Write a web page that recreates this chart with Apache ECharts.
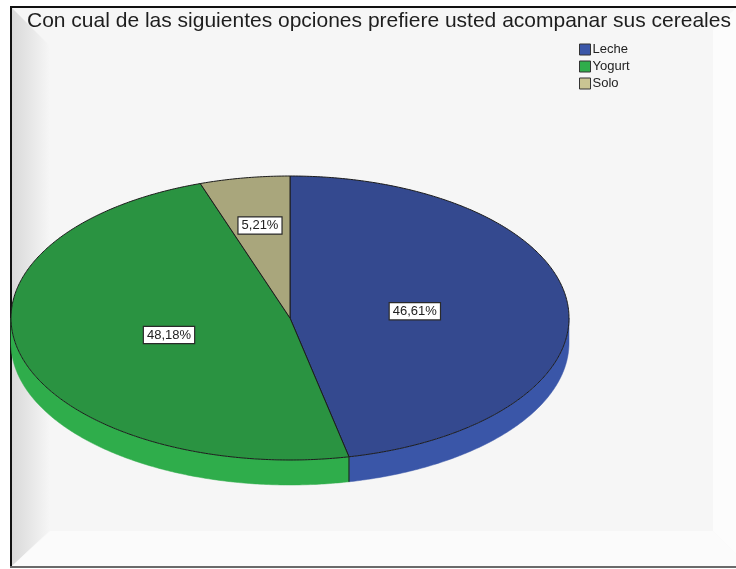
<!DOCTYPE html>
<html>
<head>
<meta charset="utf-8">
<script src="https://cdn.jsdelivr.net/npm/echarts@6/dist/echarts.min.js"></script>
<style>
  html, body { margin: 0; padding: 0; background: #fff; }
  #chart { width: 736px; height: 569px; }
</style>
</head>
<body>
<div id="chart"></div>
<script>
// datos del grafico
var titleText = "Con cual de las siguientes opciones prefiere usted acompanar sus cereales";
var categories = ["Leche", "Yogurt", "Solo"];
var shares = [46.61, 48.18, 5.21];
var topColors = ["#34498f", "#2a9341", "#a9a67c"];
var sideColors = ["#3a56a8", "#2fad4b", "#c9c493"];

// geometria del pastel (elipse 3D)
var pie = { cx: 290, cy: 318, rx: 279, ry: 142, depth: 25 };

var total = shares.reduce(function (a, b) { return a + b; }, 0);
var startAngles = [];
var endAngles = [];
var acc = -Math.PI / 2;
shares.forEach(function (v) {
  startAngles.push(acc);
  acc += v / total * Math.PI * 2;
  endAngles.push(acc);
});

function pt(a, dy) {
  return [pie.cx + pie.rx * Math.cos(a), pie.cy + pie.ry * Math.sin(a) + (dy || 0)];
}

function arcPoints(a0, a1, dy) {
  var pts = [];
  var n = Math.max(2, Math.ceil(Math.abs(a1 - a0) / 0.01));
  for (var k = 0; k <= n; k++) {
    pts.push(pt(a0 + (a1 - a0) * k / n, dy));
  }
  return pts;
}

function fmt(v) {
  return v.toFixed(2).replace(".", ",") + "%";
}

function renderSlice(i) {
  var s = startAngles[i], e = endAngles[i];
  var children = [];
  // pared lateral: partes visibles (mitad inferior de la elipse)
  [[0, Math.PI], [2 * Math.PI, 3 * Math.PI], [-2 * Math.PI, -Math.PI]].forEach(function (r) {
    var a0 = Math.max(s, r[0]), a1 = Math.min(e, r[1]);
    if (a1 > a0) {
      var top = arcPoints(a0, a1, 0);
      var bot = arcPoints(a0, a1, pie.depth).reverse();
      children.push({
        type: "polygon",
        shape: { points: top.concat(bot) },
        style: { fill: sideColors[i], stroke: sideColors[i], lineWidth: 0.5 }
      });
    }
  });
  // borde vertical al inicio del sector
  var na = ((s % (2 * Math.PI)) + 2 * Math.PI) % (2 * Math.PI);
  if (na > 0 && na < Math.PI) {
    var p = pt(s, 0);
    children.push({
      type: "line",
      shape: { x1: p[0], y1: p[1], x2: p[0], y2: p[1] + pie.depth },
      style: { stroke: "#1a1a1a", lineWidth: 1 }
    });
  }
  // cara superior
  children.push({
    type: "polygon",
    shape: { points: [[pie.cx, pie.cy]].concat(arcPoints(s, e, 0)) },
    style: { fill: topColors[i], stroke: "#1c1c1c", lineWidth: 1 }
  });
  // etiqueta
  var mid = (s + e) / 2;
  var f = shares[i] / total < 0.1 ? 0.66 : 0.45;
  children.push({
    type: "text",
    z2: 10,
    style: {
      text: fmt(shares[i]),
      x: pie.cx + pie.rx * f * Math.cos(mid),
      y: pie.cy + pie.ry * f * Math.sin(mid),
      align: "center",
      verticalAlign: "middle",
      fill: "#222",
      font: "13px 'Liberation Sans', Arial, sans-serif",
      backgroundColor: "#fff",
      borderColor: "#2a2a2a",
      borderWidth: 1.2,
      padding: [2, 3, 1, 3]
    }
  });
  return { type: "group", children: children };
}

var series = categories.map(function (name, i) {
  return {
    type: "custom",
    name: name,
    coordinateSystem: "none",
    color: sideColors[i],
    itemStyle: { color: sideColors[i] },
    data: [[shares[i]]],
    renderItem: function () { return renderSlice(i); }
  };
});

var chart = echarts.init(document.getElementById("chart"));
chart.setOption({
  animation: false,
  backgroundColor: "#ffffff",
  title: {
    text: titleText,
    left: 27,
    top: 11,
    padding: 0,
    textStyle: {
      fontFamily: "'Liberation Sans', Arial, sans-serif",
      fontSize: 21,
      fontWeight: "normal",
      color: "#1e1e1e"
    }
  },
  legend: {
    data: categories,
    orient: "vertical",
    left: 579,
    top: 43,
    padding: 0,
    itemWidth: 11,
    itemHeight: 11,
    itemGap: 4,
    icon: "rect",
    selectedMode: false,
    itemStyle: { borderColor: "#333", borderWidth: 1 },
    textStyle: {
      fontFamily: "'Liberation Sans', Arial, sans-serif",
      fontSize: 13,
      color: "#222",
      padding: [0, 0, 0, -3]
    }
  },
  graphic: [
    { type: "rect", z: -10, shape: { x: 12, y: 8, width: 724, height: 558 }, style: { fill: "#f6f6f6" } },
    {
      type: "polygon", z: -9,
      shape: { points: [[12, 8], [50, 46], [50, 530], [12, 566]] },
      style: {
        fill: new echarts.graphic.LinearGradient(0, 0, 1, 0, [
          { offset: 0, color: "#d9d9d9" }, { offset: 1, color: "#f6f6f6" }
        ])
      }
    },
    { type: "polygon", z: -9, shape: { points: [[12, 566], [50, 531], [713, 531], [736, 554], [736, 566]] }, style: { fill: "#fbfbfb" } },
    { type: "polygon", z: -9, shape: { points: [[713, 30], [736, 8], [736, 554], [713, 531]] }, style: { fill: "#fcfcfc" } },
    { type: "line", z: -8, shape: { x1: 10, y1: 7, x2: 736, y2: 7 }, style: { stroke: "#111", lineWidth: 2 } },
    { type: "line", z: -8, shape: { x1: 11, y1: 6, x2: 11, y2: 567 }, style: { stroke: "#111", lineWidth: 2 } },
    { type: "line", z: -8, shape: { x1: 10, y1: 567, x2: 736, y2: 567 }, style: { stroke: "#6a6a6a", lineWidth: 2 } }
  ],
  series: series
});
</script>
</body>
</html>
